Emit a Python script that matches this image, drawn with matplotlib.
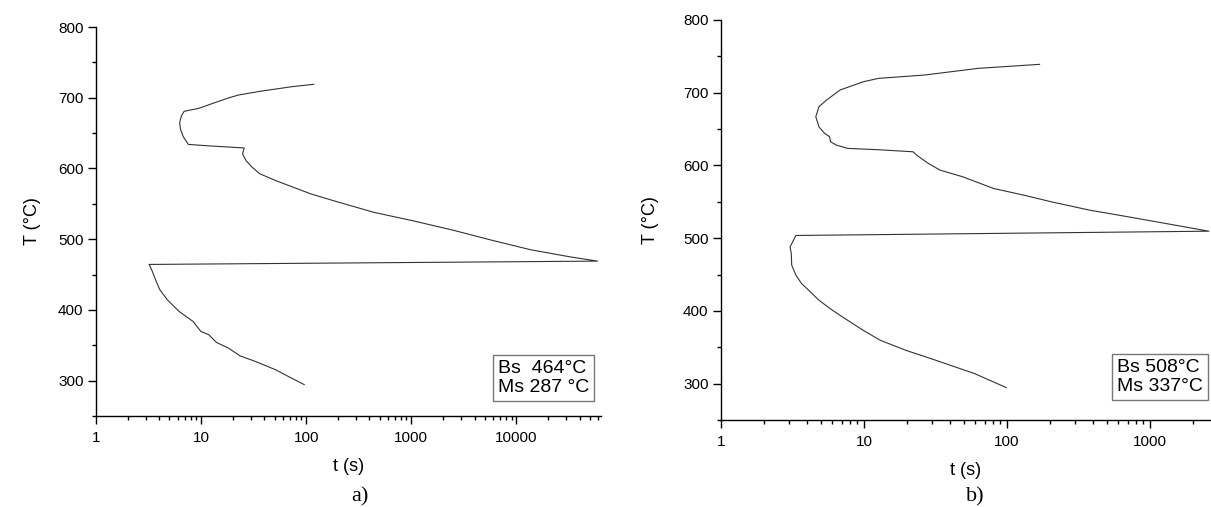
import matplotlib
matplotlib.use('Agg')
import matplotlib.pyplot as plt
import matplotlib.ticker as mticker
from matplotlib.transforms import Bbox

# panel a) C-curve (time in s, temperature in degC)
t_a = [118, 72, 36, 22.6, 18, 12.9, 9.5, 6.9, 6.5, 6.25, 6.35, 6.76, 7.56, 11.8, 25.7,
       24.8, 26.8, 30.5, 36.2, 51, 111, 186, 440, 1040, 2460, 5810, 13750, 32500, 59400,
       3.2, 3.4, 3.7, 4.03, 4.79, 6.2, 8.4, 9.96, 11.8, 14, 18.2, 23.5, 33, 51, 72, 95.8]
T_a = [719, 715.5, 709, 703.8, 699.5, 692, 685, 680.8, 674.6, 665, 656, 645, 634, 632, 629,
       620.7, 611, 602, 592.5, 583, 564, 554, 538, 526, 513, 498.6, 485, 475, 469,
       464.3, 456, 442, 429, 414, 397.6, 383.6, 369.5, 365, 354, 346, 335, 327, 315.5, 303.8, 294.4]

# panel b)
t_b = [169, 63, 26.5, 12.6, 9.86, 6.8, 5.48, 4.84, 4.6, 4.84, 5.31, 5.75, 5.83, 6.4, 7.7,
       12.6, 22, 23.4, 28.2, 34, 49, 80.7, 132, 204, 379, 703, 1306, 2580,
       3.34, 3.04, 3.1, 3.12, 3.34, 3.66, 4.1, 4.84, 6.0, 7.7, 9.86, 13, 19.5, 31.9, 59.3, 99]
T_b = [739, 733.5, 724.3, 719.7, 715, 703.7, 690, 680.7, 667, 653, 644, 639.4, 632.6, 628, 623.4,
       621.6, 618.8, 614, 602.7, 593.6, 584.4, 568.3, 559, 550, 538.5, 529.4, 520, 509.6,
       503.7, 488, 479, 463, 449, 437.6, 428.4, 414.7, 401, 387, 373.4, 359.6, 346, 332, 313.8, 294.5]

xlim_a = (1, 64000)
xlim_b = (1, 2630)
ylim = (250, 800)
legend_a = 'Bs  464\u00b0C\nMs 287 \u00b0C'
legend_b = 'Bs 508\u00b0C\nMs 337\u00b0C'

plt.rcParams['font.family'] = ['Liberation Sans', 'DejaVu Sans']

fig = plt.figure(figsize=(12.11, 5.07), dpi=100)
ax_a = fig.add_axes([0.0793, 0.1795, 0.4170, 0.7672])
ax_b = fig.add_axes([0.5954, 0.1716, 0.4038, 0.7890])


def style_axis(ax, xlim, ypad):
    ax.set_xscale('log')
    ax.set_xlim(xlim)
    ax.set_ylim(ylim)
    ax.spines['top'].set_visible(False)
    ax.spines['right'].set_visible(False)
    for s in ['left', 'bottom']:
        ax.spines[s].set_linewidth(1.0)
    ax.xaxis.set_major_locator(mticker.LogLocator(base=10))
    ax.xaxis.set_minor_locator(mticker.LogLocator(base=10, subs=range(2, 10)))
    ax.xaxis.set_major_formatter(mticker.FuncFormatter(lambda v, p: f'{v:g}'))
    ax.xaxis.set_minor_formatter(mticker.NullFormatter())
    ax.yaxis.set_major_locator(mticker.MultipleLocator(100))
    ax.yaxis.set_minor_locator(mticker.MultipleLocator(50))
    ax.tick_params(which='major', direction='out', length=5.5, width=1, labelsize=11)
    ax.tick_params(which='minor', direction='out', length=3, width=1)
    ax.tick_params(axis='x', pad=5)
    ax.set_xlabel('t (s)', fontsize=13, labelpad=10)
    return ax.set_ylabel('T (\u00b0C)', fontsize=13, labelpad=ypad)


style_axis(ax_a, xlim_a, 12)
ylab_b = style_axis(ax_b, xlim_b, 17)

# the right panel's y label is cut off at the image edge in the original
ylab_b.set_clip_box(Bbox.from_extents(641, 0, 1211, 507))
ylab_b.set_clip_on(True)

ax_a.plot(t_a, T_a, color='#333333', lw=0.8)
ax_b.plot(t_b, T_b, color='#333333', lw=0.8)

box = dict(boxstyle='square,pad=0.25', facecolor='white', edgecolor='#777777', lw=1)
ax_a.text(0.796, 0.098, legend_a, transform=ax_a.transAxes, fontsize=14,
          linespacing=1.2, va='center', ha='left', bbox=box)
ax_b.text(0.81, 0.107, legend_b, transform=ax_b.transAxes, fontsize=14,
          linespacing=1.2, va='center', ha='left', bbox=box)

fig.text(360 / 1211, 1 - 497 / 507, 'a)', family='Liberation Serif', fontsize=16,
         ha='center', va='center')
fig.text(975 / 1211, 1 - 497 / 507, 'b)', family='Liberation Serif', fontsize=16,
         ha='center', va='center')

fig.savefig('out.png', dpi=100)
